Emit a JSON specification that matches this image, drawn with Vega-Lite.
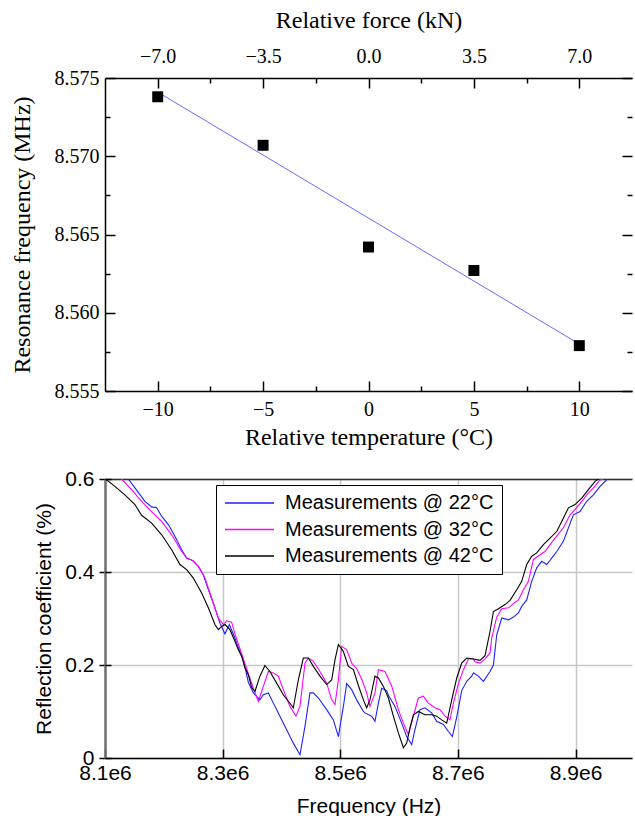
{
"$schema": "https://vega.github.io/schema/vega-lite/v6.json",
"background": "white",
"padding": {"left": 10, "top": 8, "right": 0, "bottom": 0},
"bounds": "flush",
"spacing": 88,
"config": {"view": {"stroke": null}, "axis": {"domainColor": "black", "tickColor": "black", "labelColor": "black", "titleColor": "black", "titleFontWeight": "normal", "labelFlush": false, "labelOverlap": false}},
"datasets": {
"points": [{"temp":-10,"freq":8.5738},{"temp":-5,"freq":8.5707},{"temp":0,"freq":8.5642},{"temp":5,"freq":8.5627},{"temp":10,"freq":8.5579}],
"fit": [{"temp":-10,"freq":8.5741},{"temp":10,"freq":8.5580}],
"curves": [
{"series":"Measurements @ 22°C","f":8139600,"r":0.600},{"series":"Measurements @ 22°C","f":8150900,"r":0.581},{"series":"Measurements @ 22°C","f":8167900,"r":0.552},{"series":"Measurements @ 22°C","f":8179300,"r":0.540},{"series":"Measurements @ 22°C","f":8187800,"r":0.538},{"series":"Measurements @ 22°C","f":8196300,"r":0.520},{"series":"Measurements @ 22°C","f":8207700,"r":0.502},{"series":"Measurements @ 22°C","f":8218900,"r":0.477},{"series":"Measurements @ 22°C","f":8230300,"r":0.448},{"series":"Measurements @ 22°C","f":8238800,"r":0.430},{"series":"Measurements @ 22°C","f":8250200,"r":0.424},{"series":"Measurements @ 22°C","f":8258700,"r":0.412},{"series":"Measurements @ 22°C","f":8267200,"r":0.394},{"series":"Measurements @ 22°C","f":8275700,"r":0.362},{"series":"Measurements @ 22°C","f":8286900,"r":0.323},{"series":"Measurements @ 22°C","f":8295400,"r":0.290},{"series":"Measurements @ 22°C","f":8303900,"r":0.267},{"series":"Measurements @ 22°C","f":8311400,"r":0.287},{"series":"Measurements @ 22°C","f":8320900,"r":0.258},{"series":"Measurements @ 22°C","f":8323800,"r":0.247},{"series":"Measurements @ 22°C","f":8335200,"r":0.211},{"series":"Measurements @ 22°C","f":8343700,"r":0.163},{"series":"Measurements @ 22°C","f":8352200,"r":0.140},{"series":"Measurements @ 22°C","f":8363400,"r":0.125},{"series":"Measurements @ 22°C","f":8369200,"r":0.136},{"series":"Measurements @ 22°C","f":8377700,"r":0.140},{"series":"Measurements @ 22°C","f":8386200,"r":0.118},{"series":"Measurements @ 22°C","f":8397400,"r":0.090},{"series":"Measurements @ 22°C","f":8408800,"r":0.061},{"series":"Measurements @ 22°C","f":8420200,"r":0.032},{"series":"Measurements @ 22°C","f":8431500,"r":0.007},{"series":"Measurements @ 22°C","f":8440000,"r":0.068},{"series":"Measurements @ 22°C","f":8448500,"r":0.140},{"series":"Measurements @ 22°C","f":8454200,"r":0.140},{"series":"Measurements @ 22°C","f":8462800,"r":0.129},{"series":"Measurements @ 22°C","f":8476900,"r":0.104},{"series":"Measurements @ 22°C","f":8488300,"r":0.082},{"series":"Measurements @ 22°C","f":8496800,"r":0.046},{"series":"Measurements @ 22°C","f":8505300,"r":0.111},{"series":"Measurements @ 22°C","f":8510900,"r":0.160},{"series":"Measurements @ 22°C","f":8519400,"r":0.147},{"series":"Measurements @ 22°C","f":8527900,"r":0.125},{"series":"Measurements @ 22°C","f":8539300,"r":0.100},{"series":"Measurements @ 22°C","f":8542000,"r":0.097},{"series":"Measurements @ 22°C","f":8553400,"r":0.090},{"series":"Measurements @ 22°C","f":8559000,"r":0.079},{"series":"Measurements @ 22°C","f":8564800,"r":0.118},{"series":"Measurements @ 22°C","f":8570400,"r":0.150},{"series":"Measurements @ 22°C","f":8579000,"r":0.145},{"series":"Measurements @ 22°C","f":8581800,"r":0.135},{"series":"Measurements @ 22°C","f":8593000,"r":0.111},{"series":"Measurements @ 22°C","f":8604400,"r":0.075},{"series":"Measurements @ 22°C","f":8612900,"r":0.046},{"series":"Measurements @ 22°C","f":8621400,"r":0.029},{"series":"Measurements @ 22°C","f":8627000,"r":0.061},{"series":"Measurements @ 22°C","f":8635500,"r":0.104},{"series":"Measurements @ 22°C","f":8644000,"r":0.108},{"series":"Measurements @ 22°C","f":8655400,"r":0.097},{"series":"Measurements @ 22°C","f":8663900,"r":0.079},{"series":"Measurements @ 22°C","f":8675300,"r":0.072},{"series":"Measurements @ 22°C","f":8683800,"r":0.057},{"series":"Measurements @ 22°C","f":8690600,"r":0.046},{"series":"Measurements @ 22°C","f":8698000,"r":0.088},{"series":"Measurements @ 22°C","f":8706500,"r":0.145},{"series":"Measurements @ 22°C","f":8715000,"r":0.165},{"series":"Measurements @ 22°C","f":8723500,"r":0.176},{"series":"Measurements @ 22°C","f":8726400,"r":0.183},{"series":"Measurements @ 22°C","f":8734900,"r":0.176},{"series":"Measurements @ 22°C","f":8743400,"r":0.165},{"series":"Measurements @ 22°C","f":8754600,"r":0.186},{"series":"Measurements @ 22°C","f":8760400,"r":0.200},{"series":"Measurements @ 22°C","f":8766000,"r":0.265},{"series":"Measurements @ 22°C","f":8774500,"r":0.301},{"series":"Measurements @ 22°C","f":8785900,"r":0.297},{"series":"Measurements @ 22°C","f":8794400,"r":0.303},{"series":"Measurements @ 22°C","f":8802900,"r":0.312},{"series":"Measurements @ 22°C","f":8808500,"r":0.326},{"series":"Measurements @ 22°C","f":8817000,"r":0.340},{"series":"Measurements @ 22°C","f":8825500,"r":0.380},{"series":"Measurements @ 22°C","f":8834000,"r":0.409},{"series":"Measurements @ 22°C","f":8842500,"r":0.423},{"series":"Measurements @ 22°C","f":8851000,"r":0.416},{"series":"Measurements @ 22°C","f":8859500,"r":0.430},{"series":"Measurements @ 22°C","f":8868000,"r":0.444},{"series":"Measurements @ 22°C","f":8879400,"r":0.466},{"series":"Measurements @ 22°C","f":8887900,"r":0.495},{"series":"Measurements @ 22°C","f":8896400,"r":0.523},{"series":"Measurements @ 22°C","f":8907600,"r":0.530},{"series":"Measurements @ 22°C","f":8919000,"r":0.552},{"series":"Measurements @ 22°C","f":8930400,"r":0.566},{"series":"Measurements @ 22°C","f":8941700,"r":0.584},{"series":"Measurements @ 22°C","f":8954200,"r":0.600},
{"series":"Measurements @ 32°C","f":8128200,"r":0.600},{"series":"Measurements @ 32°C","f":8145200,"r":0.577},{"series":"Measurements @ 32°C","f":8162200,"r":0.552},{"series":"Measurements @ 32°C","f":8179300,"r":0.530},{"series":"Measurements @ 32°C","f":8196300,"r":0.509},{"series":"Measurements @ 32°C","f":8213300,"r":0.480},{"series":"Measurements @ 32°C","f":8230300,"r":0.444},{"series":"Measurements @ 32°C","f":8238800,"r":0.430},{"series":"Measurements @ 32°C","f":8247300,"r":0.426},{"series":"Measurements @ 32°C","f":8258700,"r":0.412},{"series":"Measurements @ 32°C","f":8269900,"r":0.387},{"series":"Measurements @ 32°C","f":8281300,"r":0.344},{"series":"Measurements @ 32°C","f":8292700,"r":0.301},{"series":"Measurements @ 32°C","f":8301200,"r":0.287},{"series":"Measurements @ 32°C","f":8306800,"r":0.295},{"series":"Measurements @ 32°C","f":8315300,"r":0.292},{"series":"Measurements @ 32°C","f":8320900,"r":0.267},{"series":"Measurements @ 32°C","f":8329400,"r":0.235},{"series":"Measurements @ 32°C","f":8340800,"r":0.192},{"series":"Measurements @ 32°C","f":8352200,"r":0.150},{"series":"Measurements @ 32°C","f":8360700,"r":0.122},{"series":"Measurements @ 32°C","f":8369200,"r":0.154},{"series":"Measurements @ 32°C","f":8377700,"r":0.186},{"series":"Measurements @ 32°C","f":8386200,"r":0.183},{"series":"Measurements @ 32°C","f":8394700,"r":0.176},{"series":"Measurements @ 32°C","f":8403200,"r":0.147},{"series":"Measurements @ 32°C","f":8414400,"r":0.111},{"series":"Measurements @ 32°C","f":8424700,"r":0.090},{"series":"Measurements @ 32°C","f":8431500,"r":0.111},{"series":"Measurements @ 32°C","f":8440000,"r":0.204},{"series":"Measurements @ 32°C","f":8445700,"r":0.215},{"series":"Measurements @ 32°C","f":8454200,"r":0.208},{"series":"Measurements @ 32°C","f":8465500,"r":0.186},{"series":"Measurements @ 32°C","f":8476900,"r":0.161},{"series":"Measurements @ 32°C","f":8485400,"r":0.125},{"series":"Measurements @ 32°C","f":8491000,"r":0.115},{"series":"Measurements @ 32°C","f":8496800,"r":0.168},{"series":"Measurements @ 32°C","f":8502400,"r":0.240},{"series":"Measurements @ 32°C","f":8510900,"r":0.233},{"series":"Measurements @ 32°C","f":8519400,"r":0.204},{"series":"Measurements @ 32°C","f":8527900,"r":0.192},{"series":"Measurements @ 32°C","f":8536400,"r":0.170},{"series":"Measurements @ 32°C","f":8544900,"r":0.140},{"series":"Measurements @ 32°C","f":8550500,"r":0.111},{"series":"Measurements @ 32°C","f":8559000,"r":0.140},{"series":"Measurements @ 32°C","f":8564800,"r":0.190},{"series":"Measurements @ 32°C","f":8576000,"r":0.186},{"series":"Measurements @ 32°C","f":8587400,"r":0.155},{"series":"Measurements @ 32°C","f":8598800,"r":0.104},{"series":"Measurements @ 32°C","f":8607300,"r":0.075},{"series":"Measurements @ 32°C","f":8615800,"r":0.050},{"series":"Measurements @ 32°C","f":8624300,"r":0.090},{"series":"Measurements @ 32°C","f":8632800,"r":0.129},{"series":"Measurements @ 32°C","f":8641300,"r":0.133},{"series":"Measurements @ 32°C","f":8649800,"r":0.118},{"series":"Measurements @ 32°C","f":8661000,"r":0.108},{"series":"Measurements @ 32°C","f":8669500,"r":0.104},{"series":"Measurements @ 32°C","f":8678100,"r":0.090},{"series":"Measurements @ 32°C","f":8686600,"r":0.082},{"series":"Measurements @ 32°C","f":8692300,"r":0.118},{"series":"Measurements @ 32°C","f":8700900,"r":0.160},{"series":"Measurements @ 32°C","f":8709400,"r":0.190},{"series":"Measurements @ 32°C","f":8717900,"r":0.213},{"series":"Measurements @ 32°C","f":8726400,"r":0.213},{"series":"Measurements @ 32°C","f":8729100,"r":0.207},{"series":"Measurements @ 32°C","f":8737600,"r":0.204},{"series":"Measurements @ 32°C","f":8746100,"r":0.213},{"series":"Measurements @ 32°C","f":8754600,"r":0.226},{"series":"Measurements @ 32°C","f":8757500,"r":0.258},{"series":"Measurements @ 32°C","f":8766000,"r":0.303},{"series":"Measurements @ 32°C","f":8774500,"r":0.321},{"series":"Measurements @ 32°C","f":8785900,"r":0.323},{"series":"Measurements @ 32°C","f":8794400,"r":0.332},{"series":"Measurements @ 32°C","f":8802900,"r":0.340},{"series":"Measurements @ 32°C","f":8811400,"r":0.362},{"series":"Measurements @ 32°C","f":8819900,"r":0.380},{"series":"Measurements @ 32°C","f":8828400,"r":0.427},{"series":"Measurements @ 32°C","f":8839600,"r":0.437},{"series":"Measurements @ 32°C","f":8848100,"r":0.444},{"series":"Measurements @ 32°C","f":8856600,"r":0.459},{"series":"Measurements @ 32°C","f":8868000,"r":0.477},{"series":"Measurements @ 32°C","f":8879400,"r":0.495},{"series":"Measurements @ 32°C","f":8890600,"r":0.523},{"series":"Measurements @ 32°C","f":8899100,"r":0.534},{"series":"Measurements @ 32°C","f":8910500,"r":0.552},{"series":"Measurements @ 32°C","f":8921900,"r":0.570},{"series":"Measurements @ 32°C","f":8930400,"r":0.581},{"series":"Measurements @ 32°C","f":8941700,"r":0.598},{"series":"Measurements @ 32°C","f":8947400,"r":0.600},
{"series":"Measurements @ 42°C","f":8101000,"r":0.600},{"series":"Measurements @ 42°C","f":8116800,"r":0.584},{"series":"Measurements @ 42°C","f":8133800,"r":0.566},{"series":"Measurements @ 42°C","f":8150900,"r":0.545},{"series":"Measurements @ 42°C","f":8162200,"r":0.522},{"series":"Measurements @ 42°C","f":8179300,"r":0.505},{"series":"Measurements @ 42°C","f":8196300,"r":0.480},{"series":"Measurements @ 42°C","f":8213300,"r":0.448},{"series":"Measurements @ 42°C","f":8227400,"r":0.416},{"series":"Measurements @ 42°C","f":8238800,"r":0.405},{"series":"Measurements @ 42°C","f":8250200,"r":0.387},{"series":"Measurements @ 42°C","f":8264300,"r":0.355},{"series":"Measurements @ 42°C","f":8275700,"r":0.323},{"series":"Measurements @ 42°C","f":8286900,"r":0.287},{"series":"Measurements @ 42°C","f":8292700,"r":0.276},{"series":"Measurements @ 42°C","f":8298300,"r":0.283},{"series":"Measurements @ 42°C","f":8303900,"r":0.287},{"series":"Measurements @ 42°C","f":8312400,"r":0.276},{"series":"Measurements @ 42°C","f":8320900,"r":0.251},{"series":"Measurements @ 42°C","f":8326700,"r":0.233},{"series":"Measurements @ 42°C","f":8332300,"r":0.219},{"series":"Measurements @ 42°C","f":8337900,"r":0.194},{"series":"Measurements @ 42°C","f":8343700,"r":0.179},{"series":"Measurements @ 42°C","f":8349300,"r":0.152},{"series":"Measurements @ 42°C","f":8354900,"r":0.143},{"series":"Measurements @ 42°C","f":8363400,"r":0.176},{"series":"Measurements @ 42°C","f":8371900,"r":0.199},{"series":"Measurements @ 42°C","f":8380400,"r":0.186},{"series":"Measurements @ 42°C","f":8391800,"r":0.161},{"series":"Measurements @ 42°C","f":8403200,"r":0.136},{"series":"Measurements @ 42°C","f":8411700,"r":0.122},{"series":"Measurements @ 42°C","f":8420200,"r":0.108},{"series":"Measurements @ 42°C","f":8428700,"r":0.168},{"series":"Measurements @ 42°C","f":8437200,"r":0.215},{"series":"Measurements @ 42°C","f":8445700,"r":0.215},{"series":"Measurements @ 42°C","f":8454200,"r":0.197},{"series":"Measurements @ 42°C","f":8465500,"r":0.176},{"series":"Measurements @ 42°C","f":8476900,"r":0.158},{"series":"Measurements @ 42°C","f":8485400,"r":0.168},{"series":"Measurements @ 42°C","f":8491000,"r":0.211},{"series":"Measurements @ 42°C","f":8496800,"r":0.244},{"series":"Measurements @ 42°C","f":8505300,"r":0.229},{"series":"Measurements @ 42°C","f":8513800,"r":0.197},{"series":"Measurements @ 42°C","f":8522300,"r":0.190},{"series":"Measurements @ 42°C","f":8530800,"r":0.156},{"series":"Measurements @ 42°C","f":8539300,"r":0.125},{"series":"Measurements @ 42°C","f":8544900,"r":0.108},{"series":"Measurements @ 42°C","f":8550500,"r":0.125},{"series":"Measurements @ 42°C","f":8559000,"r":0.176},{"series":"Measurements @ 42°C","f":8564800,"r":0.172},{"series":"Measurements @ 42°C","f":8573300,"r":0.154},{"series":"Measurements @ 42°C","f":8581800,"r":0.129},{"series":"Measurements @ 42°C","f":8590300,"r":0.090},{"series":"Measurements @ 42°C","f":8598800,"r":0.054},{"series":"Measurements @ 42°C","f":8607300,"r":0.022},{"series":"Measurements @ 42°C","f":8612900,"r":0.032},{"series":"Measurements @ 42°C","f":8618500,"r":0.065},{"series":"Measurements @ 42°C","f":8624300,"r":0.093},{"series":"Measurements @ 42°C","f":8632800,"r":0.100},{"series":"Measurements @ 42°C","f":8644000,"r":0.093},{"series":"Measurements @ 42°C","f":8655400,"r":0.093},{"series":"Measurements @ 42°C","f":8663900,"r":0.090},{"series":"Measurements @ 42°C","f":8672400,"r":0.082},{"series":"Measurements @ 42°C","f":8681000,"r":0.075},{"series":"Measurements @ 42°C","f":8689500,"r":0.125},{"series":"Measurements @ 42°C","f":8698000,"r":0.172},{"series":"Measurements @ 42°C","f":8706500,"r":0.204},{"series":"Measurements @ 42°C","f":8715000,"r":0.215},{"series":"Measurements @ 42°C","f":8726400,"r":0.213},{"series":"Measurements @ 42°C","f":8737600,"r":0.210},{"series":"Measurements @ 42°C","f":8746100,"r":0.220},{"series":"Measurements @ 42°C","f":8754600,"r":0.272},{"series":"Measurements @ 42°C","f":8760400,"r":0.315},{"series":"Measurements @ 42°C","f":8768900,"r":0.321},{"series":"Measurements @ 42°C","f":8780100,"r":0.330},{"series":"Measurements @ 42°C","f":8788600,"r":0.339},{"series":"Measurements @ 42°C","f":8800000,"r":0.362},{"series":"Measurements @ 42°C","f":8808500,"r":0.380},{"series":"Measurements @ 42°C","f":8817000,"r":0.416},{"series":"Measurements @ 42°C","f":8825500,"r":0.434},{"series":"Measurements @ 42°C","f":8834000,"r":0.441},{"series":"Measurements @ 42°C","f":8845400,"r":0.459},{"series":"Measurements @ 42°C","f":8856600,"r":0.473},{"series":"Measurements @ 42°C","f":8868000,"r":0.487},{"series":"Measurements @ 42°C","f":8879400,"r":0.516},{"series":"Measurements @ 42°C","f":8887900,"r":0.538},{"series":"Measurements @ 42°C","f":8899100,"r":0.545},{"series":"Measurements @ 42°C","f":8910500,"r":0.559},{"series":"Measurements @ 42°C","f":8921900,"r":0.577},{"series":"Measurements @ 42°C","f":8933200,"r":0.595},{"series":"Measurements @ 42°C","f":8938900,"r":0.600}
]
},
"vconcat": [
{
"width": 527, "height": 313,
"layer": [
{
"data": {"name": "fit"},
"mark": {"type": "line", "color": "#6b6bff", "strokeWidth": 1},
"encoding": {
"x": {"field": "temp", "type": "quantitative", "scale": {"domain": [-12.5, 12.5], "nice": false, "zero": false},
"axis": {"orient": "top", "values": [-10, -5, 0, 5, 10], "labelExpr": "format(datum.value * 0.7, '.1f')", "title": "Relative force (kN)", "grid": false, "tickSize": -10, "tickWidth": 1.5, "domainWidth": 1.5, "labelPadding": 22, "titlePadding": 14, "labelFont": "Liberation Serif", "labelFontSize": 20, "titleFont": "Liberation Serif", "titleFontSize": 24}},
"y": {"field": "freq", "type": "quantitative", "scale": {"domain": [8.555, 8.575], "nice": false, "zero": false},
"axis": {"orient": "right", "values": [8.555, 8.56, 8.565, 8.57, 8.575], "labels": false, "domain": false, "grid": false, "title": null, "tickSize": -10, "tickWidth": 1.5}}
}
},
{
"data": {"name": "points"},
"mark": {"type": "square", "color": "black", "size": 120, "opacity": 1},
"encoding": {
"x": {"field": "temp", "type": "quantitative", "scale": {"domain": [-12.5, 12.5], "nice": false, "zero": false},
"axis": {"orient": "bottom", "values": [-10, -5, 0, 5, 10], "format": "d", "title": "Relative temperature (°C)", "grid": false, "tickSize": -10, "tickWidth": 1.5, "domainWidth": 1.5, "labelPadding": 18, "titlePadding": 6, "labelFont": "Liberation Serif", "labelFontSize": 20, "titleFont": "Liberation Serif", "titleFontSize": 24}},
"y": {"field": "freq", "type": "quantitative", "scale": {"domain": [8.555, 8.575], "nice": false, "zero": false},
"axis": {"orient": "left", "values": [8.555, 8.56, 8.565, 8.57, 8.575], "format": ".3f", "title": "Resonance frequency (MHz)", "grid": false, "tickSize": -10, "tickWidth": 1.5, "domainWidth": 1.5, "labelPadding": 16, "titlePadding": 20, "labelFont": "Liberation Serif", "labelFontSize": 20, "titleFont": "Liberation Serif", "titleFontSize": 24}}
}
},
{
"data": {"name": "points"},
"mark": {"type": "square", "opacity": 0},
"encoding": {
"x": {"field": "temp", "type": "quantitative", "scale": {"domain": [-12.5, 12.5], "nice": false, "zero": false},
"axis": {"orient": "bottom", "values": [-7.5, -2.5, 2.5, 7.5], "labels": false, "domain": false, "grid": false, "title": null, "tickSize": -5, "tickWidth": 1.5}},
"y": {"field": "freq", "type": "quantitative", "scale": {"domain": [8.555, 8.575], "nice": false, "zero": false},
"axis": {"orient": "left", "values": [8.5575, 8.5625, 8.5675, 8.5725], "labels": false, "domain": false, "grid": false, "title": null, "tickSize": -5, "tickWidth": 1.5}}
}
},
{
"data": {"name": "points"},
"mark": {"type": "square", "opacity": 0},
"encoding": {
"x": {"field": "temp", "type": "quantitative", "scale": {"domain": [-12.5, 12.5], "nice": false, "zero": false},
"axis": {"orient": "top", "values": [-7.5, -2.5, 2.5, 7.5], "labels": false, "domain": false, "grid": false, "title": null, "tickSize": -5, "tickWidth": 1.5}},
"y": {"field": "freq", "type": "quantitative", "scale": {"domain": [8.555, 8.575], "nice": false, "zero": false},
"axis": {"orient": "right", "values": [8.5575, 8.5625, 8.5675, 8.5725], "labels": false, "domain": false, "grid": false, "title": null, "tickSize": -5, "tickWidth": 1.5}}
}
}
],
"resolve": {"axis": {"x": "independent", "y": "independent"}}
},
{
"width": 527, "height": 279,
"layer": [
{
"data": {"name": "curves"},
"mark": {"type": "line", "strokeWidth": 1.1, "clip": true},
"encoding": {
"x": {"field": "f", "type": "quantitative", "scale": {"domain": [8100000, 8996000], "nice": false, "zero": false},
"axis": {"orient": "bottom", "values": [8100000, 8300000, 8500000, 8700000, 8900000], "labelExpr": "format(datum.value / 1000000, '.1f') + 'e6'", "title": "Frequency (Hz)", "grid": true, "gridColor": "#c8c8c8", "gridWidth": 1.5, "tickSize": -9, "tickWidth": 1.5, "domainWidth": 1.5, "labelPadding": 13, "titlePadding": 12, "labelFont": "Liberation Sans", "labelFontSize": 21, "titleFont": "Liberation Sans", "titleFontSize": 21}},
"y": {"field": "r", "type": "quantitative", "scale": {"domain": [0, 0.6], "nice": false, "zero": false},
"axis": {"orient": "left", "values": [0, 0.2, 0.4, 0.6], "format": "~g", "title": "Reflection coefficient (%)", "grid": true, "gridColor": "#c8c8c8", "gridWidth": 1.5, "tickSize": 6, "tickWidth": 1.5, "domainColor": "#707070", "domainWidth": 2.5, "labelPadding": 5, "titlePadding": 10, "labelFont": "Liberation Sans", "labelFontSize": 21, "titleFont": "Liberation Sans", "titleFontSize": 21}},
"color": {"field": "series", "type": "nominal",
"scale": {"domain": ["Measurements @ 22°C", "Measurements @ 32°C", "Measurements @ 42°C"], "range": ["#1f1fff", "#ff00ff", "#000000"]},
"legend": {"title": null, "orient": "none", "legendX": 111, "legendY": 407, "symbolType": "stroke", "symbolSize": 2401, "symbolStrokeWidth": 1.5, "clipHeight": 20, "labelFont": "Liberation Sans", "labelFontSize": 20, "labelColor": "black", "labelOffset": 10, "labelLimit": 400, "rowPadding": 6.5, "padding": 8, "strokeColor": "black", "fillColor": "white"}}
}
},
{
"data": {"name": "curves"},
"mark": {"type": "point", "opacity": 0},
"encoding": {
"x": {"field": "f", "type": "quantitative", "scale": {"domain": [8100000, 8996000], "nice": false, "zero": false},
"axis": {"orient": "top", "ticks": false, "labels": false, "grid": false, "title": null, "domain": true, "domainColor": "#303030", "domainWidth": 1.5}},
"y": {"field": "r", "type": "quantitative", "scale": {"domain": [0, 0.6], "nice": false, "zero": false},
"axis": {"orient": "left", "values": [0, 0.2, 0.4, 0.6], "labels": false, "grid": false, "domain": false, "title": null, "tickSize": -6, "tickWidth": 1.5}}
}
}
],
"resolve": {"axis": {"x": "independent", "y": "independent"}}
}
]
}
